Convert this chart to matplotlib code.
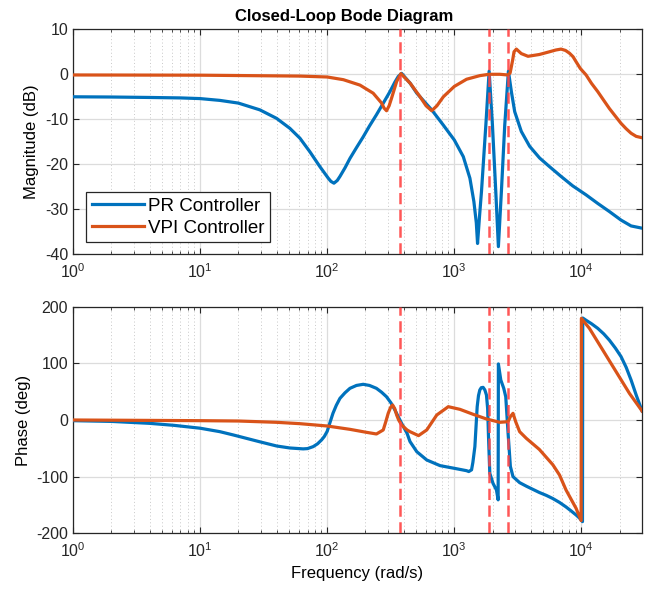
import matplotlib
matplotlib.use("Agg")
import matplotlib.pyplot as plt
from matplotlib.ticker import LogLocator, FixedLocator, NullFormatter

plt.rcParams['font.family'] = ['Liberation Sans', 'DejaVu Sans']
plt.rcParams['mathtext.fontset'] = 'custom'
plt.rcParams['mathtext.rm'] = 'Liberation Sans'
plt.rcParams['mathtext.it'] = 'Liberation Sans:italic'
plt.rcParams['axes.unicode_minus'] = False

# ---------------- data ----------------
pr_mag_w = [1, 2, 4, 7, 10, 14.3, 20, 29.5, 40, 50.8, 61, 73, 87.5, 102, 107, 113, 120, 126,
            138, 151, 170, 192, 215, 244, 275, 311, 340, 362, 385, 450, 507, 664, 820, 1000,
            1177, 1327, 1426, 1490, 1524, 1580, 1637, 1771, 1880, 1996, 2120, 2223, 2348, 2494,
            2666, 2814, 2987, 3367, 3914, 4690, 5600, 6920, 8550, 10890, 13450, 16600, 20500,
            24600, 30000]
pr_mag_db = [-5.0, -5.05, -5.15, -5.25, -5.4, -5.8, -6.4, -7.9, -9.8, -12.0, -14.2, -17.2, -20.5,
             -23.1, -23.8, -24.2, -23.6, -22.7, -20.8, -18.7, -16.3, -13.9, -11.5, -9.0, -6.5,
             -3.9, -1.8, -0.5, 0.2, -2.0, -4.2, -7.9, -11.3, -14.6, -18.3, -23.1, -28.3, -33.0,
             -37.6, -31.5, -26.0, -11.3, 0.7, -11.3, -26.0, -38.3, -26.0, -11.3, 0.7, -3.9,
             -8.3, -12.7, -16.0, -18.6, -20.5, -22.7, -24.8, -26.8, -28.7, -30.5, -32.4, -33.7,
             -34.2]

vpi_mag_w = [1, 10, 61, 100, 134, 181, 230, 268, 280, 293, 307, 321, 352, 380, 450, 538, 600,
             664, 730, 820, 1000, 1249, 1588, 1880, 2280, 2640, 2750, 2880, 2951, 3078, 3367,
             3802, 4670, 5600, 6300, 6920, 7500, 8050, 8600, 9080, 9800, 10890, 12000, 13450,
             15000, 16600, 18500, 20500, 22500, 24600, 27000, 30000]
vpi_mag_db = [-0.15, -0.2, -0.4, -0.6, -1.2, -2.4, -4.2, -6.4, -7.5, -8.1, -7.0, -5.3, -1.6,
              0.15, -2.0, -5.0, -7.0, -8.1, -7.0, -5.0, -2.7, -1.1, -0.3, 0.0, 0.0, -0.15, 0.3,
              3.2, 5.0, 5.6, 4.6, 4.0, 4.4, 5.0, 5.4, 5.6, 5.3, 4.7, 3.9, 2.8, 1.3, -0.15, -2.0,
              -3.85, -5.8, -7.6, -9.3, -10.9, -12.1, -13.1, -13.8, -14.1]

pr_ph_w = [1, 2, 4, 6.2, 10, 14.3, 18.3, 29.5, 40, 50.8, 64.7, 70, 77.6, 84, 90.2, 95, 100, 105,
           111, 118, 126, 138, 151, 170, 192, 215, 244, 268, 293, 318, 341, 362, 385, 425, 448,
           507, 607, 773, 1000, 1249, 1300, 1367, 1400, 1452, 1514, 1550, 1588, 1630, 1686, 1740,
           1791, 1830, 1855, 1902, 2018, 2146, 2213, 2223, 2322, 2449, 2540, 2650, 2762, 2897,
           3266, 3700, 4156, 4670, 5287, 5940, 6724, 7570, 8300, 9080, 9700, 10200, 10250, 10890,
           12000, 13450, 15000, 16600, 18500, 20500, 22500, 24600, 27000, 30000]
pr_ph_deg = [-1.2, -2.5, -5.9, -9.4, -14.5, -20.6, -26.5, -38.5, -45.9, -49.4, -51.0, -50.5,
             -47.0, -42.0, -35.3, -29.0, -20.0, -5.0, 11.8, 26.0, 38.2, 48.0, 55.9, 61.0, 63.0,
             61.0, 55.9, 49.0, 41.0, 30.0, 17.6, 6.0, -5.9, -23.5, -38.0, -56.0, -70.6, -80.6,
             -85.3, -89.5, -91.0, -88.0, -75.0, -47.0, 23.5, 43.0, 53.0, 57.0, 57.6, 53.0, 44.0,
             20.0, -23.5, -94.0, -112.0, -123.5, -141.0, 99.0, 70.6, 56.0, 41.0, -23.5, -82.0,
             -100.0, -110.6, -117.0, -122.5, -128.0, -133.0, -138.5, -145.5, -153.5, -160.5,
             -167.6, -173.5, -179.4, 180.0, 176.0, 170.0, 161.8, 152.0, 141.0, 127.0, 112.0, 93.0,
             70.6, 44.0, 15.9]

vpi_ph_w = [1, 10, 20, 40, 61, 100, 151, 204, 244, 276, 290, 302, 315, 327, 340, 352, 365, 385,
            425, 448, 523, 607, 728, 897, 1108, 1408, 1791, 2280, 2650, 2762, 2897, 3041, 3266,
            3688, 4670, 5960, 6724, 7570, 9080, 9950, 10000, 11560, 14730, 18750, 23880, 30000]
vpi_ph_deg = [0.0, -1.2, -1.8, -4.1, -6.5, -10.6, -16.5, -21.8, -24.7, -17.6, -2.0, 11.8, 22.0,
              26.5, 20.0, 8.8, 0.0, -8.8, -17.6, -20.6, -27.6, -17.6, 8.8, 23.5, 18.8, 10.0,
              1.8, -4.1, -3.0, 5.9, 11.8, -3.0, -20.6, -32.4, -52.0, -79.0, -97.0, -123.5,
              -155.9, -177.6, 179.4, 161.8, 123.5, 85.3, 47.0, 15.9]

harmonic_w = [377, 1885, 2639]

series_labels = ['PR Controller', 'VPI Controller']
mag_yticks = [10, 0, -10, -20, -30, -40]
ph_yticks = [200, 100, 0, -100, -200]

# ---------------- styling ----------------
BLUE = '#0072BD'
ORANGE = '#D95319'
RED = '#FF4545'
FRAME = '#262626'

fig = plt.figure(figsize=(6.53, 5.93), dpi=100)
ax1 = fig.add_axes([0.1118, 0.5712, 0.8714, 0.3794])
ax2 = fig.add_axes([0.1118, 0.1007, 0.8714, 0.3821])


def style(ax, yticks):
    ax.set_xscale('log')
    ax.set_xlim(1, 3e4)
    ax.set_ylim(min(yticks), max(yticks))
    ax.yaxis.set_major_locator(FixedLocator(yticks))
    ax.xaxis.set_major_locator(LogLocator(base=10, numticks=10))
    ax.xaxis.set_minor_locator(LogLocator(base=10, subs=range(2, 10), numticks=50))
    ax.xaxis.set_minor_formatter(NullFormatter())
    ax.grid(True, which='major', color='#DCDCDC', linewidth=0.9, linestyle='-')
    ax.grid(True, which='minor', axis='x', color='#C8C8C8', linewidth=0.7, linestyle=(0, (1, 2.5)))
    ax.set_axisbelow(True)
    for s in ax.spines.values():
        s.set_color(FRAME)
        s.set_linewidth(0.9)
    ax.tick_params(which='both', direction='in', top=True, right=True, colors=FRAME,
                   labelcolor='#262626', labelsize=11.5)
    ax.tick_params(which='major', length=4, width=0.8)
    ax.tick_params(which='minor', length=2.2, width=0.6)
    ax.tick_params(axis='x', pad=6)


style(ax1, mag_yticks)
style(ax2, ph_yticks)

l1, = ax1.plot(pr_mag_w, pr_mag_db, color=BLUE, linewidth=2.3, zorder=3, solid_joinstyle='round')
l2, = ax1.plot(vpi_mag_w, vpi_mag_db, color=ORANGE, linewidth=2.3, zorder=4, solid_joinstyle='round')
ax2.plot(pr_ph_w, pr_ph_deg, color=BLUE, linewidth=2.3, zorder=3, solid_joinstyle='round')
ax2.plot(vpi_ph_w, vpi_ph_deg, color=ORANGE, linewidth=2.3, zorder=4, solid_joinstyle='round')

for ax in (ax1, ax2):
    for w in harmonic_w:
        ax.axvline(w, color=RED, linewidth=1.8, linestyle=(0, (4.5, 2.2)), alpha=0.9, zorder=5)

ax1.set_title('Closed-Loop Bode Diagram', fontsize=12, fontweight='bold', pad=6, x=0.476)
ax1.set_ylabel('Magnitude (dB)', fontsize=12)
ax2.set_ylabel('Phase (deg)', fontsize=12)
ax2.set_xlabel('Frequency (rad/s)', fontsize=12)

leg = ax1.legend([l1, l2], series_labels, loc='lower left', bbox_to_anchor=(0.023, 0.053),
                 borderaxespad=0, fontsize=13.5, frameon=True, fancybox=False,
                 handlelength=2.8, handletextpad=0.2, borderpad=0.3, labelspacing=0.25)
leg.get_frame().set_edgecolor('#262626')
leg.get_frame().set_linewidth(0.9)
leg.get_frame().set_alpha(1)

fig.savefig('out.png', dpi=100)
